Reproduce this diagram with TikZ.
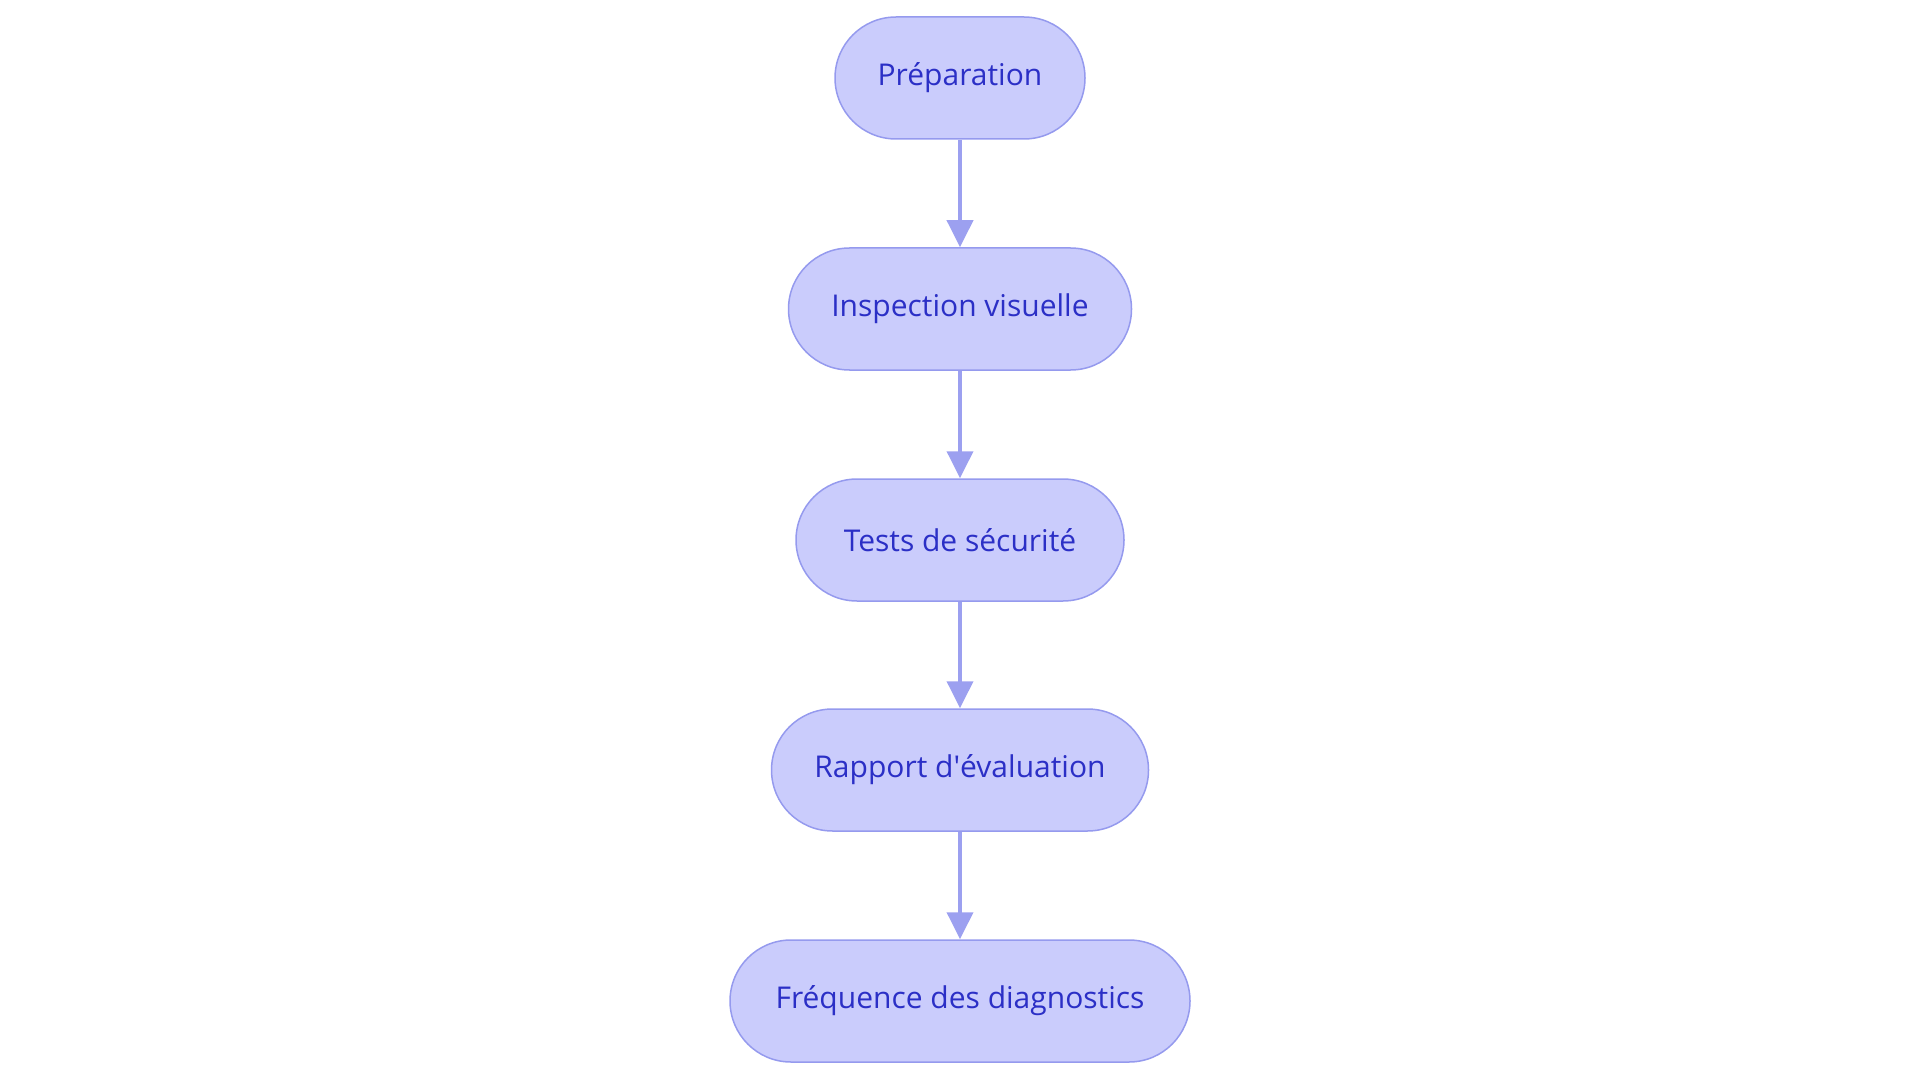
\documentclass[tikz,border=0pt]{standalone}
\usepackage{fontspec}
\setmainfont{Open Sans}
\usetikzlibrary{arrows.meta}
\definecolor{boxfill}{HTML}{CACCFC}
\definecolor{boxline}{HTML}{959AEE}
\definecolor{boxtext}{HTML}{2B2FC6}
\definecolor{arrowcol}{HTML}{9CA0F0}
\tikzset{
  flowbox/.style={draw=boxline, line width=1.5pt, fill=boxfill, text=boxtext,
    rounded corners=61pt, minimum height=122pt, inner sep=0pt,
    font=\fontsize{30}{36}\selectfont},
  flowarrow/.style={draw=arrowcol, line width=3.8pt,
    -{Triangle[width=26pt,length=27pt,fill=arrowcol]}}
}
\begin{document}
\begin{tikzpicture}[x=1pt,y=-1pt]
\useasboundingbox (0,0) rectangle (1920,1083);
\node[flowbox, minimum width=250pt] (a) at (960,78) {Préparation};
\node[flowbox, minimum width=343pt] (b) at (960,309) {Inspection visuelle};
\node[flowbox, minimum width=328pt] (c) at (960,540) {Tests de sécurité};
\node[flowbox, minimum width=377pt] (d) at (960,770) {Rapport d\textquotesingle évaluation};
\node[flowbox, minimum width=460pt] (e) at (960,1001) {Fréquence des diagnostics};
\draw[flowarrow] (a) -- (b);
\draw[flowarrow] (b) -- (c);
\draw[flowarrow] (c) -- (d);
\draw[flowarrow] (d) -- (e);
\end{tikzpicture}
\end{document}
